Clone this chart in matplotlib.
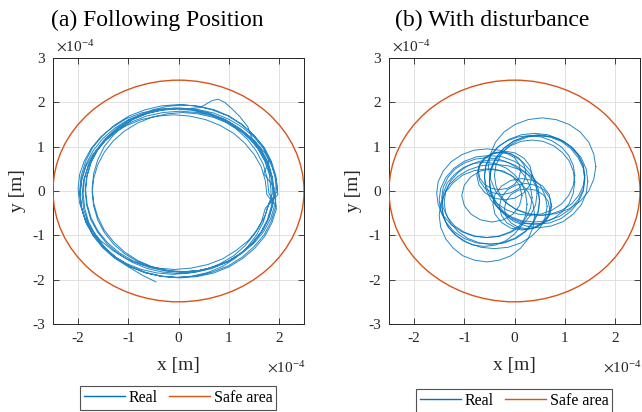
"""Trajectoire suivie dans le plan (x, y) : cas nominal et cas avec perturbation.
Toutes les positions sont en unités de 1e-4 m."""

import numpy as np
import matplotlib
matplotlib.use("Agg")
import matplotlib.pyplot as plt
from matplotlib.lines import Line2D
from matplotlib.patches import Circle

plt.rcParams["font.family"] = ["Liberation Serif", "DejaVu Serif"]
plt.rcParams["axes.unicode_minus"] = False
plt.rcParams["mathtext.fontset"] = "stix"

BLUE = "#0072BD"
RED = "#D95319"

safe_radius = 2.5
titles = ["(a) Following Position", "(b) With disturbance"]
xticks = [-2, -1, 0, 1, 2]
yticks = [-3, -2, -1, 0, 1, 2, 3]

# --- (a) suivi nominal : tours successifs (un point tous les ~10 deg) ---
a1_x = [1.95, 1.92, 1.84, 1.70, 1.51, 1.27, 1.00, 0.70, 0.38, 0.05,
        -0.28, -0.60, -0.90, -1.17, -1.41, -1.60, -1.74, -1.82, -1.85,
        -1.82, -1.74, -1.60, -1.41, -1.17, -0.90, -0.60, -0.28, 0.05,
        0.38, 0.70, 1.00, 1.27, 1.51, 1.70, 1.84, 1.92]
a1_y = [0.02, 0.34, 0.65, 0.95, 1.21, 1.44, 1.62, 1.76, 1.84, 1.87,
        1.84, 1.76, 1.62, 1.44, 1.21, 0.95, 0.65, 0.34, 0.02,
        -0.30, -0.61, -0.91, -1.17, -1.40, -1.58, -1.72, -1.80, -1.83,
        -1.80, -1.72, -1.58, -1.40, -1.17, -0.91, -0.61, -0.30]
a2_x = [1.80, 1.77, 1.69, 1.55, 1.37, 1.14, 0.88, 0.58, 0.27, -0.05,
        -0.37, -0.68, -0.98, -1.24, -1.47, -1.65, -1.79, -1.87, -1.90,
        -1.87, -1.79, -1.65, -1.47, -1.24, -0.98, -0.68, -0.37, -0.05,
        0.27, 0.58, 0.88, 1.14, 1.37, 1.55, 1.69, 1.77]
a2_y = [-0.05, 0.28, 0.60, 0.90, 1.17, 1.41, 1.60, 1.74, 1.82, 1.85,
        1.82, 1.74, 1.60, 1.41, 1.17, 0.90, 0.60, 0.28, -0.05,
        -0.38, -0.70, -1.00, -1.27, -1.51, -1.70, -1.84, -1.92, -1.95,
        -1.92, -1.84, -1.70, -1.51, -1.27, -1.00, -0.70, -0.38]
a3_x = [1.88, 1.85, 1.77, 1.64, 1.46, 1.24, 0.98, 0.70, 0.39, 0.08,
        -0.23, -0.54, -0.82, -1.08, -1.30, -1.48, -1.61, -1.69, -1.72,
        -1.69, -1.61, -1.48, -1.30, -1.08, -0.82, -0.54, -0.23, 0.08,
        0.39, 0.70, 0.98, 1.24, 1.46, 1.64, 1.77, 1.85]
a3_y = [-0.03, 0.28, 0.59, 0.87, 1.13, 1.35, 1.53, 1.66, 1.74, 1.77,
        1.74, 1.66, 1.53, 1.35, 1.13, 0.87, 0.59, 0.28, -0.03,
        -0.34, -0.65, -0.93, -1.19, -1.41, -1.59, -1.72, -1.80, -1.83,
        -1.80, -1.72, -1.59, -1.41, -1.19, -0.93, -0.65, -0.34]
a4_x = [1.84, 1.81, 1.72, 1.58, 1.39, 1.15, 0.88, 0.58, 0.25, -0.08,
        -0.41, -0.74, -1.04, -1.31, -1.55, -1.74, -1.88, -1.97, -2.00,
        -1.97, -1.88, -1.74, -1.55, -1.31, -1.04, -0.74, -0.41, -0.08,
        0.25, 0.58, 0.88, 1.15, 1.39, 1.58, 1.72, 1.81]
a4_y = [0.05, 0.37, 0.67, 0.96, 1.22, 1.44, 1.63, 1.76, 1.84, 1.87,
        1.84, 1.76, 1.63, 1.44, 1.22, 0.96, 0.67, 0.37, 0.05,
        -0.27, -0.57, -0.86, -1.12, -1.34, -1.53, -1.66, -1.74, -1.77,
        -1.74, -1.66, -1.53, -1.34, -1.12, -0.86, -0.57, -0.27]
a5_x = [1.97, 1.94, 1.85, 1.71, 1.51, 1.27, 0.99, 0.67, 0.34, 0.00,
        -0.34, -0.67, -0.99, -1.27, -1.51, -1.71, -1.85, -1.94, -1.97,
        -1.94, -1.85, -1.71, -1.51, -1.27, -0.99, -0.67, -0.34, 0.00,
        0.34, 0.67, 0.99, 1.27, 1.51, 1.71, 1.85, 1.94]
a5_y = [0.00, 0.34, 0.67, 0.98, 1.25, 1.49, 1.69, 1.83, 1.92, 1.95,
        1.92, 1.83, 1.69, 1.49, 1.25, 0.98, 0.67, 0.34, 0.00,
        -0.34, -0.67, -0.98, -1.25, -1.49, -1.69, -1.83, -1.92, -1.95,
        -1.92, -1.83, -1.69, -1.49, -1.25, -0.98, -0.67, -0.34]
a6_x = [1.92, 1.70, 1.81, 1.68, 1.49, 1.27, 1.01, 0.72, 0.42, 0.10,
        -0.22, -0.52, -0.81, -1.07, -1.29, -1.48, -1.61, -1.69, -1.72,
        -1.69, -1.61, -1.48, -1.29, -1.07, -0.81, -0.52, -0.22, 0.10,
        0.42, 0.72, 1.01, 1.27, 1.49, 1.68, 1.81, 1.89]
a6_y = [0.06, 0.39, 0.70, 1.00, 1.27, 1.50, 1.69, 1.83, 1.91, 1.94,
        1.91, 1.83, 1.69, 1.50, 1.27, 1.00, 0.70, 0.39, 0.06,
        -0.27, -0.58, -0.88, -1.15, -1.38, -1.57, -1.71, -1.79, -1.82,
        -1.79, -1.71, -1.57, -1.38, -1.15, -0.88, -0.58, -0.27]
a7_x = [1.76, 1.73, 1.65, 1.51, 1.32, 1.10, 0.83, 0.54, 0.22, -0.10,
        -0.42, -0.74, -1.03, -1.30, -1.52, -1.71, -1.85, -1.93, -1.96,
        -1.93, -1.85, -1.71, -1.52, -1.30, -1.03, -0.74, -0.42, -0.10,
        0.22, 0.54, 0.83, 1.10, 1.32, 1.51, 1.65, 1.73]
a7_y = [-0.08, 0.23, 0.54, 0.82, 1.08, 1.30, 1.48, 1.61, 1.69, 1.72,
        1.69, 1.61, 1.48, 1.30, 1.08, 0.82, 0.54, 0.23, -0.08,
        -0.39, -0.70, -0.98, -1.24, -1.46, -1.64, -1.77, -1.85, -1.88,
        -1.85, -1.77, -1.64, -1.46, -1.24, -0.98, -0.70, -0.39]
a8_x = [1.98, 1.95, 1.86, 1.72, 1.52, 1.28, 1.01, 0.70, 0.37, 0.03,
        -0.31, -0.64, -0.95, -1.22, -1.46, -1.66, -1.80, -1.89, -1.92,
        -1.89, -1.80, -1.66, -1.46, -1.22, -0.95, -0.64, -0.31, 0.03,
        0.37, 0.70, 1.01, 1.28, 1.52, 1.72, 1.86, 1.95]
a8_y = [-0.08, 0.25, 0.56, 0.86, 1.13, 1.36, 1.55, 1.69, 1.77, 1.80,
        1.77, 1.69, 1.55, 1.36, 1.13, 0.86, 0.56, 0.25, -0.08,
        -0.41, -0.72, -1.02, -1.29, -1.52, -1.71, -1.85, -1.93, -1.96,
        -1.93, -1.85, -1.71, -1.52, -1.29, -1.02, -0.72, -0.41]
# tour avec la bosse en haut (x ~ 0.8, y ~ 2.07)
a9_x = [1.90, 1.87, 1.79, 1.65, 1.46, 1.38, 1.22, 1.05, 0.92, 0.79, 0.67, 0.55,
        0.42, 0.20, 0.02,
        -0.31, -0.62, -0.92, -1.19, -1.42, -1.61, -1.75, -1.83, -1.86,
        -1.83, -1.75, -1.61, -1.42, -1.19, -0.92, -0.62, -0.31, 0.02,
        0.35, 0.66, 0.96, 1.23, 1.46, 1.65, 1.79, 1.87]
a9_y = [0.00, 0.32, 0.64, 0.93, 1.20, 1.45, 1.68, 1.87, 2.00, 2.07, 2.04, 1.96,
        1.88, 1.86, 1.86,
        1.83, 1.75, 1.61, 1.42, 1.20, 0.93, 0.64, 0.32, 0.00,
        -0.32, -0.64, -0.93, -1.20, -1.42, -1.61, -1.75, -1.83, -1.86,
        -1.83, -1.75, -1.61, -1.42, -1.20, -0.93, -0.64, -0.32]
# dernier tour, interrompu en bas à gauche
a10_x = [1.90, 1.87, 1.78, 1.64, 1.45, 1.21, 0.94, 0.63, 0.31, -0.03,
         -0.37, -0.69, -1.00, -1.27, -1.51, -1.70, -1.84, -1.93, -1.96,
         -1.93, -1.84, -1.70, -1.51, -1.27, -1.00, -0.72, -0.45]
a10_y = [-0.05, 0.28, 0.61, 0.91, 1.18, 1.42, 1.61, 1.75, 1.84, 1.87,
         1.84, 1.75, 1.61, 1.42, 1.18, 0.91, 0.61, 0.28, -0.05,
         -0.38, -0.71, -1.01, -1.28, -1.52, -1.71, -1.90, -2.05]

# --- (b) avec perturbation : grandes boucles droite (r), gauche (l),
#     petites boucles centrales haut (s1) / bas (s2), boucles extérieures (o) ---
r1_x = [1.40, 1.37, 1.27, 1.11, 0.90, 0.66, 0.40, 0.14, -0.10, -0.31, -0.47, -0.57,
        -0.60, -0.57, -0.47, -0.31, -0.10, 0.14, 0.40, 0.66, 0.90, 1.11, 1.27, 1.37]
r1_y = [0.30, 0.56, 0.80, 1.01, 1.17, 1.27, 1.30, 1.27, 1.17, 1.01, 0.80, 0.56,
        0.30, 0.04, -0.20, -0.41, -0.57, -0.67, -0.70, -0.67, -0.57, -0.41, -0.20, 0.04]
r2_x = [1.40, 1.37, 1.27, 1.12, 0.93, 0.70, 0.45, 0.20, -0.03, -0.22, -0.37, -0.47,
        -0.50, -0.47, -0.37, -0.22, -0.03, 0.20, 0.45, 0.70, 0.93, 1.12, 1.27, 1.37]
r2_y = [0.25, 0.51, 0.75, 0.96, 1.12, 1.22, 1.25, 1.22, 1.12, 0.96, 0.75, 0.51,
        0.25, -0.01, -0.25, -0.46, -0.62, -0.72, -0.75, -0.72, -0.62, -0.46, -0.25, -0.01]
r3_x = [1.20, 1.17, 1.08, 0.94, 0.75, 0.53, 0.30, 0.07, -0.15, -0.34, -0.48, -0.57,
        -0.60, -0.57, -0.48, -0.34, -0.15, 0.07, 0.30, 0.53, 0.75, 0.94, 1.08, 1.17]
r3_y = [0.35, 0.58, 0.80, 0.99, 1.13, 1.22, 1.25, 1.22, 1.13, 0.99, 0.80, 0.58,
        0.35, 0.12, -0.10, -0.29, -0.43, -0.52, -0.55, -0.52, -0.43, -0.29, -0.10, 0.12]
r4_x = [1.46, 1.43, 1.33, 1.17, 0.97, 0.73, 0.48, 0.23, -0.01, -0.21, -0.37, -0.47,
        -0.50, -0.47, -0.37, -0.21, -0.01, 0.23, 0.48, 0.73, 0.97, 1.17, 1.33, 1.43]
r4_y = [0.22, 0.49, 0.75, 0.96, 1.13, 1.23, 1.27, 1.23, 1.13, 0.96, 0.75, 0.49,
        0.22, -0.05, -0.31, -0.52, -0.69, -0.79, -0.83, -0.79, -0.69, -0.52, -0.31, -0.05]
r5_x = [1.20, 1.17, 1.09, 0.95, 0.78, 0.57, 0.35, 0.13, -0.08, -0.25, -0.39, -0.47,
        -0.50, -0.47, -0.39, -0.25, -0.08, 0.13, 0.35, 0.57, 0.78, 0.95, 1.09, 1.17]
r5_y = [0.20, 0.45, 0.68, 0.87, 1.02, 1.12, 1.15, 1.12, 1.02, 0.87, 0.68, 0.45,
        0.20, -0.05, -0.28, -0.47, -0.62, -0.72, -0.75, -0.72, -0.62, -0.47, -0.28, -0.05]
r6_x = [1.40, 1.37, 1.28, 1.14, 0.95, 0.73, 0.50, 0.27, 0.05, -0.14, -0.28, -0.37,
        -0.40, -0.37, -0.28, -0.14, 0.05, 0.27, 0.50, 0.73, 0.95, 1.14, 1.28, 1.37]
r6_y = [0.35, 0.58, 0.80, 0.99, 1.13, 1.22, 1.25, 1.22, 1.13, 0.99, 0.80, 0.58,
        0.35, 0.12, -0.10, -0.29, -0.43, -0.52, -0.55, -0.52, -0.43, -0.29, -0.10, 0.12]
l1_x = [0.50, 0.47, 0.37, 0.21, 0.00, -0.24, -0.50, -0.76, -1.00, -1.21, -1.37, -1.47,
        -1.50, -1.47, -1.37, -1.21, -1.00, -0.76, -0.50, -0.24, 0.00, 0.21, 0.37, 0.47]
l1_y = [-0.20, 0.06, 0.30, 0.51, 0.67, 0.77, 0.80, 0.77, 0.67, 0.51, 0.30, 0.06,
        -0.20, -0.46, -0.70, -0.91, -1.07, -1.17, -1.20, -1.17, -1.07, -0.91, -0.70, -0.46]
l2_x = [0.50, 0.47, 0.37, 0.22, 0.03, -0.20, -0.45, -0.70, -0.93, -1.12, -1.27, -1.37,
        -1.40, -1.37, -1.27, -1.12, -0.93, -0.70, -0.45, -0.20, 0.03, 0.22, 0.37, 0.47]
l2_y = [-0.25, 0.00, 0.23, 0.42, 0.57, 0.67, 0.70, 0.67, 0.57, 0.42, 0.23, 0.00,
        -0.25, -0.50, -0.73, -0.92, -1.07, -1.17, -1.20, -1.17, -1.07, -0.92, -0.73, -0.50]
l3_x = [0.35, 0.32, 0.23, 0.09, -0.10, -0.32, -0.55, -0.78, -1.00, -1.19, -1.33, -1.42,
        -1.45, -1.42, -1.33, -1.19, -1.00, -0.78, -0.55, -0.32, -0.10, 0.09, 0.23, 0.32]
l3_y = [-0.15, 0.08, 0.30, 0.49, 0.63, 0.72, 0.75, 0.72, 0.63, 0.49, 0.30, 0.08,
        -0.15, -0.38, -0.60, -0.79, -0.93, -1.02, -1.05, -1.02, -0.93, -0.79, -0.60, -0.38]
l4_x = [0.25, 0.22, 0.14, 0.00, -0.17, -0.38, -0.60, -0.82, -1.03, -1.20, -1.34, -1.42,
        -1.45, -1.42, -1.34, -1.20, -1.03, -0.82, -0.60, -0.38, -0.17, 0.00, 0.14, 0.22]
l4_y = [-0.30, -0.05, 0.18, 0.37, 0.52, 0.62, 0.65, 0.62, 0.52, 0.37, 0.18, -0.05,
        -0.30, -0.55, -0.78, -0.97, -1.12, -1.22, -1.25, -1.22, -1.12, -0.97, -0.78, -0.55]
l6_x = [0.45, 0.42, 0.32, 0.16, -0.05, -0.29, -0.55, -0.81, -1.05, -1.26, -1.42, -1.52,
        -1.55, -1.52, -1.42, -1.26, -1.05, -0.81, -0.55, -0.29, -0.05, 0.16, 0.32, 0.42]
l6_y = [-0.05, 0.21, 0.45, 0.66, 0.82, 0.92, 0.95, 0.92, 0.82, 0.66, 0.45, 0.21,
        -0.05, -0.31, -0.55, -0.76, -0.92, -1.02, -1.05, -1.02, -0.92, -0.76, -0.55, -0.31]
l7_x = [0.65, 0.61, 0.51, 0.34, 0.13, -0.13, -0.40, -0.67, -0.93, -1.14, -1.31, -1.41,
        -1.45, -1.41, -1.31, -1.14, -0.93, -0.67, -0.40, -0.13, 0.13, 0.34, 0.51, 0.61]
l7_y = [-0.35, -0.10, 0.13, 0.32, 0.47, 0.57, 0.60, 0.57, 0.47, 0.32, 0.13, -0.10,
        -0.35, -0.60, -0.83, -1.02, -1.17, -1.27, -1.30, -1.27, -1.17, -1.02, -0.83, -0.60]
l5_x = [0.15, 0.10, -0.03, -0.22, -0.45, -0.68, -0.87, -1.00, -1.05, -1.00, -0.87, -0.68,
        -0.45, -0.22, -0.03, 0.10]
l5_y = [-0.10, 0.13, 0.32, 0.45, 0.50, 0.45, 0.32, 0.13, -0.10, -0.33, -0.52, -0.65,
        -0.70, -0.65, -0.52, -0.33]
o1_x = [1.62, 1.58, 1.48, 1.31, 1.09, 0.83, 0.55, 0.27, 0.01, -0.21, -0.38, -0.48,
        -0.52, -0.48, -0.38, -0.21, 0.01, 0.27, 0.55, 0.83, 1.09, 1.31, 1.48, 1.58]
o1_y = [0.55, 0.83, 1.10, 1.33, 1.50, 1.61, 1.65, 1.61, 1.50, 1.33, 1.10, 0.83,
        0.55, 0.27, 0.00, -0.23, -0.40, -0.51, -0.55, -0.51, -0.40, -0.23, 0.00, 0.27]
o2_x = [0.40, 0.37, 0.27, 0.12, -0.07, -0.30, -0.55, -0.80, -1.03, -1.22, -1.37, -1.47,
        -1.50, -1.47, -1.37, -1.22, -1.03, -0.80, -0.55, -0.30, -0.07, 0.12, 0.27, 0.37]
o2_y = [-0.55, -0.28, -0.02, 0.19, 0.36, 0.46, 0.50, 0.46, 0.36, 0.19, -0.02, -0.28,
        -0.55, -0.82, -1.08, -1.29, -1.46, -1.56, -1.60, -1.56, -1.46, -1.29, -1.08, -0.82]
s1a_x = [0.23, 0.19, 0.09, -0.07, -0.25, -0.43, -0.59, -0.69, -0.73, -0.69, -0.59, -0.43,
         -0.25, -0.07, 0.09, 0.19]
s1a_y = [0.40, 0.58, 0.74, 0.84, 0.88, 0.84, 0.74, 0.58, 0.40, 0.22, 0.06, -0.04,
         -0.08, -0.04, 0.06, 0.22]
s1b_x = [0.12, 0.09, 0.00, -0.14, -0.30, -0.46, -0.60, -0.69, -0.72, -0.69, -0.60, -0.46,
         -0.30, -0.14, 0.00, 0.09]
s1b_y = [0.45, 0.61, 0.75, 0.84, 0.87, 0.84, 0.75, 0.61, 0.45, 0.29, 0.15, 0.06,
         0.03, 0.06, 0.15, 0.29]
s1c_x = [0.35, 0.31, 0.19, 0.01, -0.20, -0.41, -0.59, -0.71, -0.75, -0.71, -0.59, -0.41,
         -0.20, 0.01, 0.19, 0.31]
s1c_y = [0.35, 0.56, 0.74, 0.86, 0.90, 0.86, 0.74, 0.56, 0.35, 0.14, -0.04, -0.16,
         -0.20, -0.16, -0.04, 0.14]
s2a_x = [0.74, 0.70, 0.59, 0.42, 0.22, 0.02, -0.15, -0.26, -0.30, -0.26, -0.15, 0.02,
         0.22, 0.42, 0.59, 0.70]
s2a_y = [-0.35, -0.15, 0.02, 0.13, 0.17, 0.13, 0.02, -0.15, -0.35, -0.55, -0.72, -0.83,
         -0.87, -0.83, -0.72, -0.55]
s2b_x = [0.70, 0.67, 0.57, 0.42, 0.25, 0.08, -0.07, -0.17, -0.20, -0.17, -0.07, 0.08,
         0.25, 0.42, 0.57, 0.67]
s2b_y = [-0.40, -0.23, -0.08, 0.02, 0.05, 0.02, -0.08, -0.23, -0.40, -0.57, -0.72, -0.82,
         -0.85, -0.82, -0.72, -0.57]
s2c_x = [0.73, 0.69, 0.56, 0.37, 0.15, -0.07, -0.26, -0.39, -0.43, -0.39, -0.26, -0.07,
         0.15, 0.37, 0.56, 0.69]
s2c_y = [-0.30, -0.08, 0.11, 0.24, 0.28, 0.24, 0.11, -0.08, -0.30, -0.52, -0.71, -0.84,
         -0.88, -0.84, -0.71, -0.52]

real_a = [(a1_x + a2_x + a3_x + a4_x + a5_x + a6_x + a7_x + a8_x + a9_x + a10_x,
           a1_y + a2_y + a3_y + a4_y + a5_y + a6_y + a7_y + a8_y + a9_y + a10_y)]
real_b = [(l1_x, l1_y), (s1a_x, s1a_y), (r1_x, r1_y), (s2a_x, s2a_y),
          (l2_x, l2_y), (s1b_x, s1b_y), (r2_x, r2_y), (o1_x, o1_y),
          (s2b_x, s2b_y), (l3_x, l3_y), (r3_x, r3_y), (s1c_x, s1c_y),
          (l6_x, l6_y), (s2c_x, s2c_y), (r4_x, r4_y), (l4_x, l4_y),
          (o2_x, o2_y), (l5_x, l5_y), (r5_x, r5_y), (l7_x, l7_y), (r6_x, r6_y)]


def draw_panel(ax, loops, closed):
    for xs, ys in loops:
        xs, ys = np.asarray(xs), np.asarray(ys)
        if closed:
            xs, ys = np.append(xs, xs[0]), np.append(ys, ys[0])
        ax.plot(xs, ys, color=BLUE, lw=0.7, alpha=0.85, zorder=3)
    ax.add_patch(Circle((0, 0), safe_radius, fill=False, ec=RED, lw=1.0, zorder=4))

    ax.set_xlim(-2.5, 2.5)
    ax.set_ylim(-3, 3)
    ax.set_xticks(xticks)
    ax.set_yticks(yticks)
    ax.set_xticklabels([str(v) for v in xticks])
    ax.set_yticklabels([str(v) for v in yticks])
    ax.tick_params(direction="in", length=4, width=0.6, top=True, right=True,
                   labelsize=11, colors="#262626", pad=6)
    ax.grid(True, color="#dcdcdc", lw=0.6, zorder=0)
    ax.set_axisbelow(True)
    for s in ax.spines.values():
        s.set_linewidth(0.7)
        s.set_color("#262626")

    ax.set_xlabel("x [m]", fontsize=14, color="#262626")
    ax.set_ylabel("y [m]", fontsize=14, color="#262626")
    ax.xaxis.set_label_coords(0.5, -0.125)
    ax.yaxis.set_label_coords(-0.108, 0.5)
    ax.text(0.01, 1.012, r"$\times\mathregular{10^{-4}}$", transform=ax.transAxes,
            ha="left", va="bottom", fontsize=11, color="#262626")
    ax.text(1.005, -0.135, r"$\times\mathregular{10^{-4}}$", transform=ax.transAxes,
            ha="right", va="top", fontsize=11, color="#262626")


fig = plt.figure(figsize=(6.42, 4.12), dpi=100)
ax_a = fig.add_axes([53 / 642, 1 - 324 / 412, 251 / 642, 266 / 412])
ax_b = fig.add_axes([389 / 642, 1 - 324 / 412, 251 / 642, 266 / 412])

draw_panel(ax_a, real_a, closed=False)
draw_panel(ax_b, real_b, closed=True)

fig.text(157 / 642, 1 - 20 / 412, titles[0], ha="center", va="center", fontsize=17)
fig.text(492 / 642, 1 - 20 / 412, titles[1], ha="center", va="center", fontsize=17)

for cx, top in [(178 / 642, 1 - 386 / 412), (514 / 642, 1 - 389 / 412)]:
    handles = [Line2D([], [], color=BLUE, lw=1.0, label="Real"),
               Line2D([], [], color=RED, lw=1.0, label="Safe area")]
    leg = fig.legend(handles=handles, loc="upper center", bbox_to_anchor=(cx, top),
                     ncol=2, fontsize=11.5, frameon=True, fancybox=False,
                     handlelength=2.6, handletextpad=0.2, columnspacing=0.7,
                     borderpad=0.25, borderaxespad=0)
    leg.get_frame().set_edgecolor("#262626")
    leg.get_frame().set_linewidth(0.8)

fig.savefig("out.png", dpi=100)
